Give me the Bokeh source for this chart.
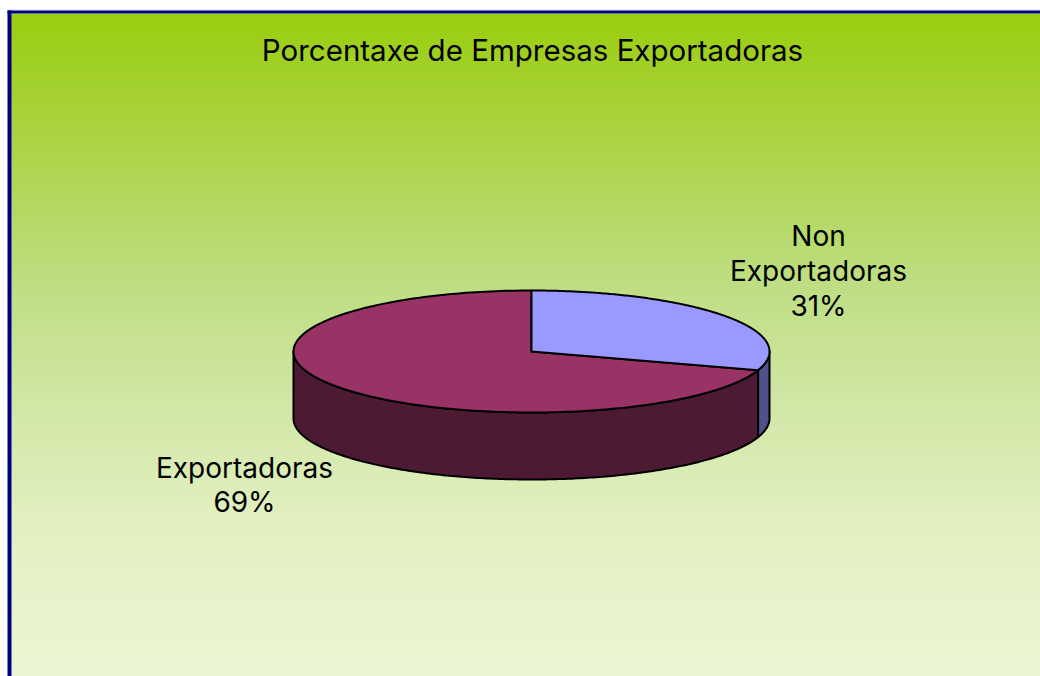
import numpy as np
from bokeh.plotting import figure
from bokeh.models import Range1d
from bokeh.core.properties import value
from bokeh.embed import file_html
from bokeh.resources import INLINE

title_text = "Porcentaxe de Empresas Exportadoras"
categories = ["Non\nExportadoras", "Exportadoras"]
shares = [31, 69]

TOP_COLORS = ["#9999ff", "#993366"]
WALL_COLORS = ["#50508a", "#4d1a33"]
BORDER = "#000080"
FONT = value("Inter")

W, H = 1040, 676
CX, CY, RX, RY, DEPTH = 531, 351, 238, 61, 67
TWIST = np.radians(5.5)   # 3-D view shifts the slice boundary a little

grad_pos = [13, 120, 280, 400, 520, 640, 676]
grad_r = [155, 168, 190, 208, 226, 234, 235]
grad_g = [206, 211, 222, 231, 240, 245, 246]
grad_b = [16, 60, 130, 165, 192, 209, 212]

p = figure(width=W, height=H, output_backend="svg", toolbar_location=None,
           x_range=Range1d(0, W), y_range=Range1d(H, 0),
           min_border=0, background_fill_color="white", border_fill_color="white",
           outline_line_color=None)
p.axis.visible = False
p.grid.visible = False

# background gradient: each band runs to the bottom, so no seams show
edges = np.arange(13, H, 2)
mid = edges + 1
r = np.interp(mid, grad_pos, grad_r).astype(int)
g = np.interp(mid, grad_pos, grad_g).astype(int)
b = np.interp(mid, grad_pos, grad_b).astype(int)
cols = [f"#{a:02x}{c:02x}{d:02x}" for a, c, d in zip(r, g, b)]
p.quad(left=11, right=W, top=edges, bottom=H, fill_color=cols, line_color=None)

# frame
p.quad(left=7, right=W, top=9, bottom=10, fill_color="#dcdce4", line_color=None)
p.quad(left=7, right=11, top=10, bottom=H, fill_color=BORDER, line_color=None)
p.quad(left=7, right=W, top=10, bottom=13, fill_color=BORDER, line_color=None)

def warp(t):
    return t + TWIST * np.sin(2 * t)

def arc(t0, t1, n=240):
    t = warp(np.linspace(t0, t1, n))
    return CX + RX * np.sin(t), CY - RY * np.cos(t)

bound = 2 * np.pi * shares[0] / sum(shares)

def wall(t0, t1, color):
    x, y = arc(t0, t1)
    xs = np.concatenate([x, x[::-1]])
    ys = np.concatenate([y, (y + DEPTH)[::-1]])
    p.patch(xs, ys, fill_color=color, line_color="black", line_width=2, line_join="round")

wall(np.pi / 2, bound, WALL_COLORS[0])
wall(bound, 3 * np.pi / 2, WALL_COLORS[1])

def top(t0, t1, color):
    x, y = arc(t0, t1)
    xs = np.concatenate([[CX], x])
    ys = np.concatenate([[CY], y])
    p.patch(xs, ys, fill_color=color, line_color="black", line_width=2, line_join="round")

top(bound, 2 * np.pi, TOP_COLORS[1])
top(0, bound, TOP_COLORS[0])

# texts
def label(x, y, text, size="28px"):
    p.text([x], [y], text=[text], text_font=FONT, text_font_size=size, text_color="black",
           text_align="center", text_baseline="middle")

label(532, 49, title_text, "29.5px")
for i, line in enumerate(categories[0].split("\n") + [f"{shares[0]}%"]):
    label(818, 235 + 35 * i, line)
for i, line in enumerate(categories[1].split("\n") + [f"{shares[1]}%"]):
    label(244, 467 + 34 * i, line)

open("out.html", "w").write(file_html(p, INLINE))
